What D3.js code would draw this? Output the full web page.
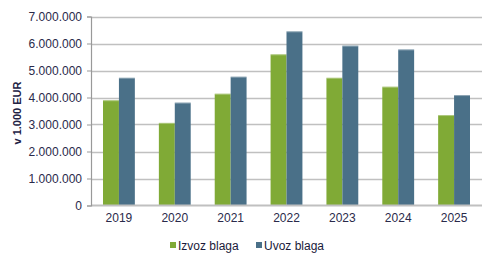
<!DOCTYPE html>
<html><head><meta charset="utf-8">
<script src="https://cdn.jsdelivr.net/npm/d3@7"></script>
<style>body{margin:0;background:#fff}svg{display:block;font-family:"Liberation Sans",Arial,sans-serif}</style>
</head><body><svg id="c" width="492" height="267"></svg>
<script>
const years = ["2019","2020","2021","2022","2023","2024","2025"];
const izvoz = [3900000,3060000,4140000,5600000,4730000,4400000,3350000];
const uvoz  = [4730000,3810000,4770000,6450000,5920000,5780000,4090000];
const seriesNames = ["Izvoz blaga","Uvoz blaga"];
const colors = ["#80AA36","#4A7088"];
const yTicks = [0,1000000,2000000,3000000,4000000,5000000,6000000,7000000];
const yLabel = "v 1.000 EUR";

const svg = d3.select("#c");
const m = {l:91, r:10, t:16.5, b:61.5};
const W = 492, H = 267;
const x = d3.scaleBand().domain(years).range([m.l, W-m.r]).paddingInner(0.43).paddingOuter(0.215);
const xs = d3.scaleBand().domain([0,1]).range([0, x.bandwidth()]);
const y = d3.scaleLinear().domain([0,7000000]).range([H-m.b, m.t]);
const fmt = v => d3.format(",")(v).replace(/,/g,".");

// gridlines
svg.append("g").selectAll("line").data(yTicks.slice(1)).join("line")
  .attr("x1", m.l).attr("x2", W-m.r)
  .attr("y1", d=>Math.round(y(d))+0.5).attr("y2", d=>Math.round(y(d))+0.5)
  .attr("stroke","#C0C0C0").attr("stroke-width",1.5);

// bars
const data = years.map((yr,i)=>({yr, vals:[izvoz[i], uvoz[i]]}));
const g = svg.append("g");
data.forEach(d=>{
  d.vals.forEach((v,k)=>{
    g.append("rect")
      .attr("x", x(d.yr)+xs(k)).attr("width", xs.bandwidth())
      .attr("y", y(v)).attr("height", y(0)-y(v))
      .attr("fill", colors[k]);
    g.append("rect")
      .attr("x", x(d.yr)+xs(k)).attr("width", xs.bandwidth())
      .attr("y", y(v)).attr("height", 1)
      .attr("fill", "#fff").attr("opacity",0.35);
  });
});

// x axis baseline
svg.append("line").attr("x1", m.l).attr("x2", W-m.r)
  .attr("y1", y(0)).attr("y2", y(0)).attr("stroke","#C0C0C0").attr("stroke-width",2);

// y axis
const yAxis = d3.axisLeft(y).tickValues(yTicks).tickFormat(fmt).tickSize(4).tickPadding(5);
const ya = svg.append("g").attr("transform",`translate(${m.l},0)`).call(yAxis);
ya.select(".domain").attr("stroke","#999").attr("stroke-width",1.2);
ya.selectAll(".tick line").attr("stroke","#999");
ya.selectAll("text").attr("fill","#2a2a4a").style("font-size","12px");

// x axis labels
const xAxis = d3.axisBottom(x).tickSize(0).tickPadding(8);
const xa = svg.append("g").attr("transform",`translate(0,${y(0)})`).call(xAxis);
xa.select(".domain").remove();
xa.selectAll("text").attr("fill","#2a2a4a").style("font-size","12px");

// y label
svg.append("text").attr("transform",`translate(21,${(m.t+y(0))/2+2}) rotate(-90)`)
  .attr("text-anchor","middle").attr("fill","#222244")
  .style("font-size","11px").style("font-weight","bold").text(yLabel);

// legend
const legX = [170, 256];
seriesNames.forEach((n,k)=>{
  svg.append("rect").attr("x", legX[k]).attr("y", 242).attr("width",6).attr("height",6).attr("fill",colors[k]);
  svg.append("text").attr("x", legX[k]+8).attr("y", 249.5).attr("fill","#1a1a3a")
    .style("font-size","12px").text(n);
});
</script></body></html>
